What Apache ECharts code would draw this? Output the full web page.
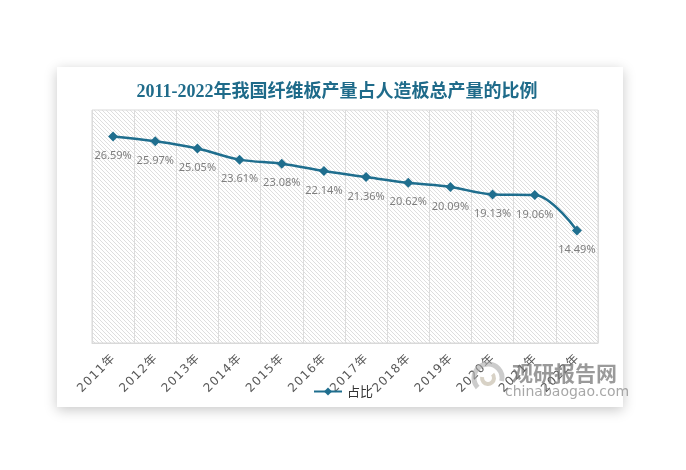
<!DOCTYPE html>
<html><head><meta charset="utf-8">
<script src="https://cdn.jsdelivr.net/npm/echarts@6/dist/echarts.min.js"></script>
<style>html,body{margin:0;padding:0;background:#fff}#c{width:686px;height:470px}</style>
</head><body><div id="c"></div>
<script>
const categories = ['2011年','2012年','2013年','2014年','2015年','2016年','2017年','2018年','2019年','2020年','2021年','2022年'];
const shareValues = [26.59, 25.97, 25.05, 23.61, 23.08, 22.14, 21.36, 20.62, 20.09, 19.13, 19.06, 14.49];
const seriesName = '占比';
const titleText = '2011-2022年我国纤维板产量占人造板总产量的比例';

// hatch pattern
const pc = document.createElement('canvas');
pc.width = 4; pc.height = 4;
const px = pc.getContext('2d');
px.fillStyle = '#ffffff'; px.fillRect(0,0,4,4);
px.strokeStyle = '#dedede'; px.lineWidth = 1;
px.beginPath(); px.moveTo(-1,-1); px.lineTo(5,5); px.moveTo(-1,3); px.lineTo(1,5); px.moveTo(3,-1); px.lineTo(5,1); px.stroke();

const chart = echarts.init(document.getElementById('c'));
const lineColor = '#1f6e8e';
chart.setOption({
  backgroundColor: '#ffffff',
  animation: false,
  graphic: [
    {type:'rect', z:-10, shape:{x:57,y:67,width:566,height:340}, style:{fill:'#fff', shadowBlur:12, shadowColor:'rgba(0,0,0,0.22)', shadowOffsetY:3}},
    {type:'text', z:10, left:512, top:363, style:{text:'观研报告网', fill:'rgba(120,120,120,0.75)', font:'bold 21px "Noto Sans CJK SC"'}},
    {type:'text', z:10, left:505, top:385, style:{text:'chinabaogao.com', fill:'rgba(130,130,130,0.7)', font:'14px "DejaVu Sans"'}},
    {type:'arc', z:10, shape:{cx:488,cy:378,r:14,startAngle:2.4,endAngle:6.5}, style:{stroke:'rgba(170,170,170,0.6)', lineWidth:5, fill:null}},
    {type:'arc', z:10, shape:{cx:488,cy:378,r:6,startAngle:-0.7,endAngle:3.3}, style:{stroke:'rgba(190,180,160,0.6)', lineWidth:4, fill:null}}
  ],
  title: {
    text: titleText, left: 332, top: 78, textAlign: 'center',
    textStyle: {color: '#1f6b8a', fontSize: 18, fontWeight: 'bold', fontFamily: '"Liberation Serif","Noto Sans CJK SC"'}
  },
  legend: {
    data: [seriesName], left: 'center', top: 380, itemWidth: 28, itemHeight: 10, itemGap: 4,
    textStyle: {color: '#333', fontSize: 13, fontFamily: '"Noto Sans CJK SC"'}
  },
  grid: {
    left: 92, right: 88, top: 110, bottom: 127, show: true,
    backgroundColor: {image: pc, repeat: 'repeat'}, borderColor: '#d9d9d9', borderWidth: 1
  },
  xAxis: {
    type: 'category', data: categories, boundaryGap: true,
    axisLine: {show: true, lineStyle: {color: '#d9d9d9'}},
    axisTick: {show: false},
    splitLine: {show: true, lineStyle: {color: '#dcdcdc'}},
    axisLabel: {rotate: 45, margin: 14, color: '#595959', fontSize: 12, fontFamily: '"DejaVu Sans","Noto Sans CJK SC"', interval: 0,
      formatter: v => v.split('').join('\u200A')}
  },
  yAxis: {
    type: 'value', min: 0, max: 30, show: false, splitLine: {show: false}
  },
  series: [{
    name: seriesName, type: 'line', data: shareValues, smooth: 0.35,
    symbol: 'diamond', symbolSize: 10,
    lineStyle: {color: lineColor, width: 2.5},
    itemStyle: {color: lineColor},
    label: {show: true, position: 'bottom', distance: 9, color: '#7f7f7f', fontSize: 11,
      fontFamily: '"Noto Sans","DejaVu Sans"', formatter: p => p.value.toFixed(2) + '%'}
  }]
});
</script></body></html>
